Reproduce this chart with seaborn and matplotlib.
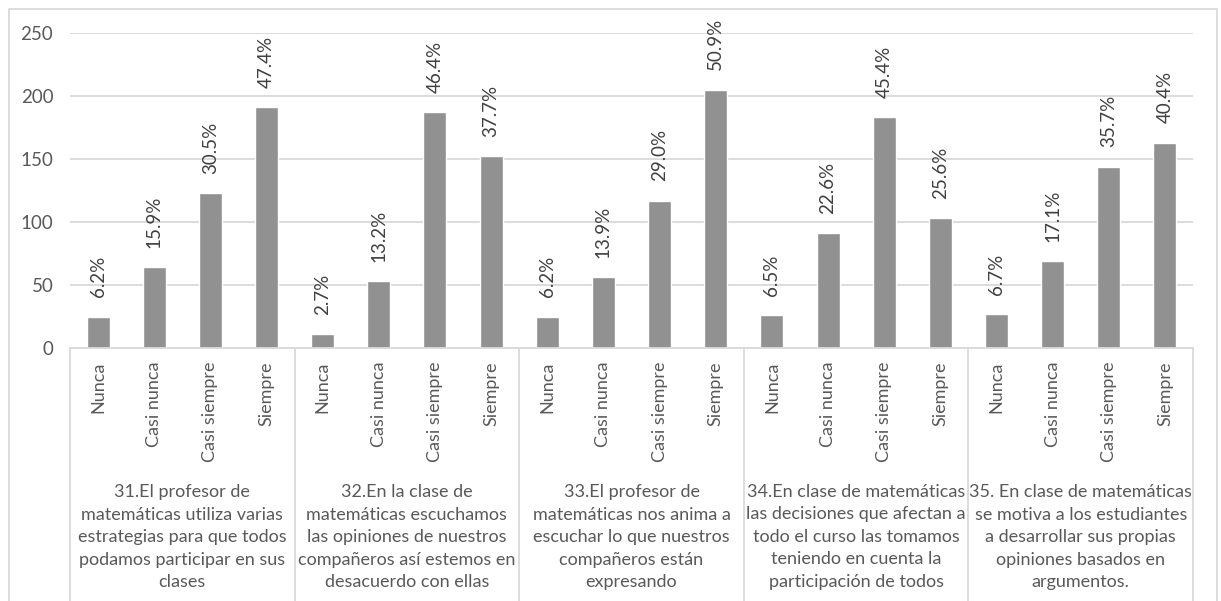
import matplotlib
matplotlib.use("Agg")
import matplotlib.pyplot as plt
import matplotlib.transforms as mtransforms
from matplotlib.lines import Line2D
import pandas as pd
import seaborn as sns

# Survey items (questions 31-35) and the answer scale
questions = [
    "31.El profesor de\nmatemáticas utiliza varias\nestrategias para que todos\npodamos participar en sus\nclases",
    "32.En la clase de\nmatemáticas escuchamos\nlas opiniones de nuestros\ncompañeros así estemos en\ndesacuerdo con ellas",
    "33.El profesor de\nmatemáticas nos anima a\nescuchar lo que nuestros\ncompañeros están\nexpresando",
    "34.En clase de matemáticas\nlas decisiones que afectan a\ntodo el curso las tomamos\nteniendo en cuenta la\nparticipación de todos",
    "35. En clase de matemáticas\nse motiva a los estudiantes\na desarrollar sus propias\nopiniones basados en\nargumentos.",
]
answers = ["Nunca", "Casi nunca", "Casi siempre", "Siempre"]

# Number of students per answer, one list per question
q31 = [25, 64, 123, 191]
q32 = [11, 53, 187, 152]
q33 = [25, 56, 117, 205]
q34 = [26, 91, 183, 103]
q35 = [27, 69, 144, 163]
counts = [q31, q32, q33, q34, q35]

rows = []
for qi, (q, vals) in enumerate(zip(questions, counts)):
    total = sum(vals)
    for a, v in zip(answers, vals):
        rows.append({"key": f"{qi}-{a}", "question": q, "answer": a,
                     "count": v, "pct": 100.0 * v / total})
df = pd.DataFrame(rows)

sns.set_theme(style="white")
plt.rcParams["font.family"] = ["Lato", "DejaVu Sans"]

W, H = 1221, 601
fig = plt.figure(figsize=(W / 100, H / 100), dpi=100)
left, right, top, bottom = 70, 1193, 33, 348
ax = fig.add_axes([left / W, 1 - bottom / H, (right - left) / W, (bottom - top) / H])

bar_color = "#919191"
grid_color = "#d9d9d9"
text_color = "#595959"

sns.barplot(data=df, x="key", y="count", color=bar_color, width=0.41,
            saturation=1, ax=ax, order=df["key"].tolist())

ax.set_ylim(0, 250)
ax.set_xlim(-0.5, len(df) - 0.5)
ax.set_yticks([0, 50, 100, 150, 200, 250])
ax.yaxis.grid(True, color=grid_color, linewidth=1.3)
ax.set_axisbelow(True)
for s in ["top", "right", "left"]:
    ax.spines[s].set_visible(False)
ax.spines["bottom"].set_color(grid_color)
ax.spines["bottom"].set_linewidth(1.3)
ax.set_xlabel("")
ax.set_ylabel("")
ax.tick_params(axis="y", length=0, pad=12, labelsize=13.5, labelcolor=text_color)
ax.tick_params(axis="x", length=0, pad=10, labelsize=13, labelcolor=text_color)
ax.set_xticks(range(len(df)))
ax.set_xticklabels(df["answer"], rotation=90, va="top")

# Percentage labels above each bar
for i, r in df.iterrows():
    ax.annotate(f"{r['pct']:.1f}%", xy=(i, r["count"]), xytext=(0, 14),
                textcoords="offset points", rotation=90, ha="center",
                va="bottom", fontsize=13.5, color="#404040")

# Group separators and question labels under the answer labels
trans = mtransforms.blended_transform_factory(ax.transData, ax.transAxes)
y_bottom = (bottom - (H + 2)) / (bottom - top)
for g in range(len(questions) + 1):
    x = g * 4 - 0.5
    ax.plot([x, x], [0, y_bottom], transform=trans, color=grid_color,
            linewidth=1.3, clip_on=False)
y_text = (bottom - 484) / (bottom - top)
for g, q in enumerate(questions):
    ax.text(g * 4 + 1.5, y_text, q, transform=trans, ha="center", va="top",
            fontsize=13, color=text_color, linespacing=1.5, multialignment="center")

# Chart frame (left, top and right edges; the bottom runs off the canvas)
fx = [9 / W, 9 / W, 1217 / W, 1217 / W]
fy = [0, 1 - 9 / H, 1 - 9 / H, 0]
fig.lines.append(Line2D(fx, fy, transform=fig.transFigure, color=grid_color,
                        linewidth=1.3))

fig.savefig("out.png", dpi=100)
